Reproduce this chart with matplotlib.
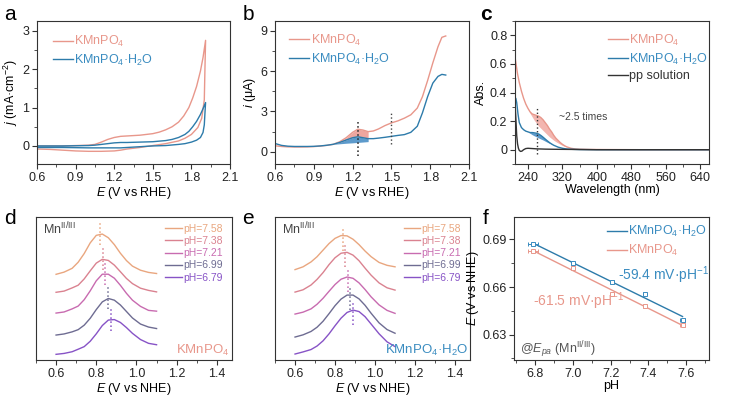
import numpy as np
import matplotlib
matplotlib.use("Agg")
import matplotlib.pyplot as plt
from matplotlib.ticker import MultipleLocator

plt.rcParams['font.family'] = ['Liberation Sans', 'DejaVu Sans']
plt.rcParams['mathtext.fontset'] = 'custom'
plt.rcParams['mathtext.rm'] = 'Liberation Sans'
plt.rcParams['mathtext.it'] = 'Liberation Sans:italic'
plt.rcParams['mathtext.bf'] = 'Liberation Sans:bold'
plt.rcParams['font.size'] = 9

# ---- data ----
lab_k = 'KMnPO$_4$'
lab_kh = 'KMnPO$_4$·H$_2$O'

# a: CV loops (forward then reverse)
a_k_E = [0.60, 0.70, 0.80, 0.90, 1.00, 1.05, 1.10, 1.15, 1.20, 1.25, 1.30, 1.40, 1.50, 1.55, 1.60, 1.65,
         1.70, 1.74, 1.78, 1.81, 1.84, 1.87, 1.89, 1.91,
         1.905, 1.90, 1.88, 1.85, 1.80, 1.75, 1.70, 1.60, 1.50, 1.40, 1.30, 1.25, 1.20, 1.10, 1.00,
         0.90, 0.80, 0.70, 0.60]
a_k_j = [0.0, 0.0, 0.0, 0.01, 0.02, 0.04, 0.10, 0.17, 0.22, 0.25, 0.26, 0.28, 0.32, 0.36, 0.42, 0.50,
         0.62, 0.78, 1.00, 1.25, 1.55, 1.95, 2.30, 2.75,
         2.00, 1.20, 0.72, 0.48, 0.30, 0.20, 0.13, 0.06, 0.01, -0.04, -0.08, -0.11, -0.13, -0.14, -0.14,
         -0.13, -0.11, -0.09, -0.08]
a_kh_E = [0.60, 0.80, 1.00, 1.05, 1.10, 1.15, 1.20, 1.25, 1.30, 1.40, 1.50, 1.60, 1.65, 1.70, 1.75,
          1.78, 1.81, 1.84, 1.87, 1.89, 1.91,
          1.905, 1.90, 1.89, 1.87, 1.84, 1.80, 1.75, 1.70, 1.60, 1.50, 1.40, 1.30, 1.25, 1.20, 1.10,
          1.00, 0.80, 0.60]
a_kh_j = [0.0, 0.0, 0.01, 0.02, 0.04, 0.06, 0.08, 0.09, 0.09, 0.10, 0.11, 0.14, 0.17, 0.22, 0.30,
          0.38, 0.50, 0.64, 0.82, 0.97, 1.13,
          0.85, 0.55, 0.35, 0.22, 0.15, 0.10, 0.06, 0.04, 0.01, 0.0, -0.02, -0.04, -0.05, -0.05, -0.05,
          -0.05, -0.04, -0.04]

# b: current traces
b_E = [0.60, 0.65, 0.70, 0.75, 0.80, 0.85, 0.90, 0.95, 1.00, 1.05, 1.10, 1.15, 1.20, 1.24, 1.28,
       1.32, 1.36, 1.40, 1.45, 1.50, 1.55, 1.60, 1.65, 1.70, 1.74, 1.78, 1.82, 1.86, 1.89, 1.92]
b_k = [0.45, 0.40, 0.37, 0.36, 0.36, 0.37, 0.39, 0.43, 0.48, 0.56, 0.75, 1.05, 1.45, 1.68, 1.62,
       1.50, 1.55, 1.70, 1.95, 2.15, 2.30, 2.50, 2.75, 3.25, 4.10, 5.30, 6.60, 7.80, 8.50, 8.60]
b_kh = [0.62, 0.48, 0.42, 0.40, 0.40, 0.40, 0.41, 0.44, 0.49, 0.56, 0.70, 0.88, 1.05, 1.12, 1.05,
        0.98, 0.98, 1.02, 1.08, 1.15, 1.22, 1.28, 1.45, 1.90, 2.90, 4.10, 5.10, 5.60, 5.75, 5.70]
b_base_E = [1.05, 1.10, 1.15, 1.20, 1.24, 1.28, 1.32]
b_base = [0.56, 0.60, 0.64, 0.67, 0.70, 0.73, 0.76]
b_marks = [1.24, 1.50]

# c: UV-vis
c_k_wl = [210, 213, 216, 220, 225, 230, 235, 240, 245, 250, 255, 260, 265, 270, 275, 280, 285, 290,
          295, 300, 305, 310, 315, 320, 325, 330, 340, 350, 360, 380, 420, 500, 580, 660]
c_k = [0.65, 0.59, 0.53, 0.47, 0.41, 0.36, 0.32, 0.29, 0.265, 0.25, 0.245, 0.24, 0.235, 0.225, 0.21,
       0.19, 0.17, 0.145, 0.125, 0.10, 0.08, 0.065, 0.05, 0.038, 0.028, 0.02, 0.01, 0.005, 0.003,
       0.002, 0.001, 0.0, 0.0, 0.0]
c_k_base_wl = [240, 245, 250, 255, 260, 265, 270, 275, 280, 285, 290, 295, 300, 305, 310, 315, 320, 325, 330]
c_k_base = [0.29, 0.255, 0.23, 0.205, 0.185, 0.165, 0.15, 0.135, 0.12, 0.105, 0.09, 0.078, 0.066,
            0.056, 0.047, 0.038, 0.03, 0.024, 0.02]
c_kh_wl = [210, 212, 214, 217, 220, 225, 230, 235, 240, 245, 250, 255, 260, 265, 270, 275, 280, 285,
           290, 295, 300, 310, 320, 330, 340, 360, 400, 500, 660]
c_kh = [0.33, 0.36, 0.33, 0.25, 0.19, 0.155, 0.14, 0.13, 0.125, 0.12, 0.12, 0.118, 0.115, 0.11, 0.10,
        0.088, 0.075, 0.062, 0.05, 0.04, 0.031, 0.018, 0.01, 0.005, 0.003, 0.001, 0.0, 0.0, 0.0]
c_kh_base_wl = [240, 245, 250, 255, 260, 265, 270, 275, 280, 285, 290, 295, 300, 310]
c_kh_base = [0.125, 0.115, 0.105, 0.097, 0.09, 0.082, 0.075, 0.068, 0.06, 0.052, 0.045, 0.038, 0.031, 0.018]
c_pp_wl = [210, 212, 214, 216, 218, 220, 223, 226, 230, 235, 240, 250, 260, 280, 300, 340, 400, 500, 660]
c_pp = [0.34, 0.22, 0.10, 0.04, 0.01, -0.005, -0.012, -0.01, 0.0, 0.008, 0.01, 0.008, 0.006, 0.004,
        0.003, 0.002, 0.0, 0.0, 0.0]
c_mark = 260

# d / e: stacked peaks (offset, a.u.)
pH_labels = ['pH=7.58', 'pH=7.38', 'pH=7.21', 'pH=6.99', 'pH=6.79']
pH_colors = ['#E9A67F', '#DA8290', '#C86BB0', '#6E6C92', '#8753C6']
peak_E = [0.60, 0.64, 0.68, 0.71, 0.74, 0.77, 0.80, 0.83, 0.86, 0.89, 0.92, 0.95, 0.98, 1.02, 1.06, 1.10]
d_758 = [8.58, 8.80, 9.18, 9.79, 10.66, 11.73, 12.48, 12.61, 12.24, 11.55, 10.69, 9.96, 9.40, 8.99, 8.77, 8.66]
d_738 = [6.78, 6.90, 7.22, 7.49, 8.12, 8.93, 9.70, 10.08, 9.97, 9.50, 8.84, 8.17, 7.65, 7.19, 6.97, 6.82]
d_721 = [4.70, 4.81, 5.12, 5.40, 6.04, 6.93, 7.93, 8.59, 8.59, 8.19, 7.48, 6.68, 5.99, 5.37, 4.97, 4.89]
d_699 = [2.50, 2.61, 2.82, 3.04, 3.49, 4.18, 5.05, 5.82, 6.16, 5.99, 5.51, 4.86, 4.21, 3.60, 3.30, 3.15]
d_679 = [0.57, 0.66, 0.83, 1.08, 1.34, 1.88, 2.62, 3.45, 4.00, 4.05, 3.76, 3.25, 2.67, 2.05, 1.67, 1.53]
d_mark_E = [0.82, 0.835, 0.845, 0.86, 0.875]
e_758 = [9.05, 9.33, 9.82, 10.34, 11.00, 11.66, 12.18, 12.46, 12.43, 12.09, 11.55, 10.91, 10.35, 9.77, 9.48, 9.33]
e_738 = [6.80, 7.03, 7.51, 8.07, 8.75, 9.55, 10.24, 10.69, 10.78, 10.50, 9.94, 9.20, 8.50, 7.72, 7.23, 7.00]
e_721 = [4.60, 4.79, 5.12, 5.58, 6.18, 6.88, 7.56, 8.09, 8.31, 8.18, 7.72, 7.06, 6.33, 5.52, 4.97, 4.67]
e_699 = [2.30, 2.52, 2.86, 3.28, 3.88, 4.64, 5.44, 6.10, 6.50, 6.50, 6.12, 5.48, 4.69, 3.72, 3.05, 2.68]
e_679 = [0.60, 0.81, 1.05, 1.40, 1.92, 2.62, 3.43, 4.19, 4.76, 5.00, 4.85, 4.34, 3.61, 2.63, 1.82, 1.34]
e_mark_E = [0.84, 0.852, 0.864, 0.875, 0.892]

# f: Epa vs pH
f_pH = [6.79, 7.00, 7.21, 7.38, 7.58]
f_kh = [0.6871, 0.6750, 0.6634, 0.6557, 0.6394]
f_k = [0.6829, 0.6718, 0.6555, 0.6482, 0.6363]
f_xerr = [0.025, 0.008, 0.008, 0.008, 0.012]

SALMON = '#E8978B'
BLUE = '#2D7BAA'
BLUE_T = '#3A8CC0'
DARK = '#333333'
MN = 'Mn$^{\\mathrm{II/III}}$'


def style(ax):
    for s in ax.spines.values():
        s.set_color(DARK)
        s.set_linewidth(0.8)
    ax.tick_params(which='both', direction='out', colors=DARK, labelcolor='#222222', labelsize=9, pad=2)
    ax.tick_params(which='major', length=3.5, width=0.8)
    ax.tick_params(which='minor', length=2, width=0.6)


def legend(ax, x, y, fs=9, sp=0.3, colors=None):
    leg = ax.legend(loc='upper left', bbox_to_anchor=(x, y), frameon=False, fontsize=fs,
                    handlelength=1.6, handletextpad=0.1, labelspacing=sp, borderpad=0,
                    borderaxespad=0)
    for t, c in zip(leg.get_texts(), colors):
        t.set_color(c)
    return leg


fig = plt.figure(figsize=(7.34, 3.99), dpi=100)
ax_a = fig.add_axes([0.0504, 0.589, 0.263, 0.358])
ax_b = fig.add_axes([0.3747, 0.589, 0.2643, 0.358])
ax_c = fig.add_axes([0.7016, 0.589, 0.2643, 0.358])
ax_d = fig.add_axes([0.049, 0.0977, 0.267, 0.358])
ax_e = fig.add_axes([0.3747, 0.0977, 0.2657, 0.358])
ax_f = fig.add_axes([0.7003, 0.0977, 0.2657, 0.358])

# ---- a ----
ax_a.plot(a_k_E, a_k_j, color=SALMON, lw=1, label=lab_k)
ax_a.plot(a_kh_E, a_kh_j, color=BLUE, lw=1, label=lab_kh)
ax_a.set_xlim(0.6, 2.1)
ax_a.set_ylim(-0.47, 3.25)
ax_a.xaxis.set_major_locator(MultipleLocator(0.3))
ax_a.xaxis.set_minor_locator(MultipleLocator(0.15))
ax_a.yaxis.set_major_locator(MultipleLocator(1))
ax_a.yaxis.set_minor_locator(MultipleLocator(0.5))
ax_a.set_xlabel('$E$ (V vs RHE)', labelpad=1)
ax_a.set_ylabel('$j$ (mA·cm$^{-2}$)', labelpad=2)
style(ax_a)
legend(ax_a, 0.083, 0.91, colors=[SALMON, BLUE_T])

# ---- b ----
b_E_arr = np.array(b_E)
sel = (b_E_arr >= b_base_E[0]) & (b_E_arr <= b_base_E[-1])
ax_b.fill_between(b_E_arr[sel], np.array(b_k)[sel], np.array(b_kh)[sel], color='#EE9D95', alpha=0.9, lw=0)
ax_b.fill_between(b_E_arr[sel], np.array(b_kh)[sel], b_base, color='#4B8FC6', alpha=0.9, lw=0)
ax_b.plot(b_E, b_k, color=SALMON, lw=1, label=lab_k)
ax_b.plot(b_E, b_kh, color=BLUE, lw=1, label=lab_kh)
ax_b.vlines(b_marks[0], -0.3, 2.4, colors='#222222', linestyles=':', lw=1.1)
ax_b.vlines(b_marks[1], 0.6, 2.9, colors='#444444', linestyles=':', lw=1.0)
ax_b.set_xlim(0.6, 2.1)
ax_b.set_ylim(-0.9, 9.7)
ax_b.xaxis.set_major_locator(MultipleLocator(0.3))
ax_b.xaxis.set_minor_locator(MultipleLocator(0.15))
ax_b.yaxis.set_major_locator(MultipleLocator(3))
ax_b.yaxis.set_minor_locator(MultipleLocator(1.5))
ax_b.set_xlabel('$E$ (V vs RHE)', labelpad=1)
ax_b.set_ylabel('$i$ (μA)', labelpad=2)
style(ax_b)
legend(ax_b, 0.074, 0.92, colors=[SALMON, BLUE_T])

# ---- c ----
k_wl = np.array(c_k_wl)
sel_k = (k_wl >= c_k_base_wl[0]) & (k_wl <= c_k_base_wl[-1])
ax_c.fill_between(k_wl[sel_k], np.array(c_k)[sel_k], c_k_base, color='#F2AAA2', alpha=0.85, lw=0)
kh_wl = np.array(c_kh_wl)
sel_kh = (kh_wl >= c_kh_base_wl[0]) & (kh_wl <= c_kh_base_wl[-1])
ax_c.fill_between(kh_wl[sel_kh], np.array(c_kh)[sel_kh], c_kh_base, color='#4B8FC6', alpha=0.9, lw=0)
ax_c.plot(c_k_wl, c_k, color=SALMON, lw=1, label=lab_k)
ax_c.plot(c_kh_wl, c_kh, color=BLUE, lw=1, label=lab_kh)
ax_c.plot(c_pp_wl, c_pp, color=DARK, lw=1, label='pp solution')
ax_c.vlines(c_mark, -0.03, 0.29, colors='#333333', linestyles=':', lw=1.0)
ax_c.text(313, 0.23, '~2.5 times', fontsize=7.5, color='#444444', va='center')
ax_c.set_xlim(210, 660)
ax_c.set_ylim(-0.1, 0.9)
ax_c.set_xticks([240, 320, 400, 480, 560, 640])
ax_c.xaxis.set_minor_locator(MultipleLocator(40))
ax_c.set_yticks([0, 0.2, 0.4, 0.6, 0.8])
ax_c.set_yticklabels(['0', '0.2', '0.4', '0.6', '0.8'])
ax_c.yaxis.set_minor_locator(MultipleLocator(0.1))
ax_c.set_xlabel('Wavelength (nm)', labelpad=0)
ax_c.set_ylabel('Abs.', labelpad=2)
style(ax_c)
legend(ax_c, 0.478, 0.92, colors=[SALMON, BLUE_T, DARK])

# ---- d / e ----
for ax, curves, marks, up, down in [(ax_d, [d_758, d_738, d_721, d_699, d_679], d_mark_E, 1.1, 1.1),
                                    (ax_e, [e_758, e_738, e_721, e_699, e_679], e_mark_E, 0.7, 1.5)]:
    for ys, c, lab, m in zip(curves, pH_colors, pH_labels, marks):
        ax.plot(peak_E, ys, color=c, lw=1, label=lab)
        top = max(ys)
        ax.vlines(m, top - down, top + up, colors=c, linestyles=':', lw=1.1)
    ax.set_xlim(0.5, 1.475)
    ax.set_ylim(0, 14.3)
    ax.set_xticks([0.6, 0.8, 1.0, 1.2, 1.4])
    ax.set_xticklabels(['0.6', '0.8', '1.0', '1.2', '1.4'])
    ax.xaxis.set_minor_locator(MultipleLocator(0.1))
    ax.set_yticks([])
    ax.set_xlabel('$E$ (V vs NHE)', labelpad=1)
    style(ax)
    legend(ax, 0.66, 0.955, fs=7.5, sp=0.22, colors=pH_colors)
    ax.text(0.037, 0.92, MN, transform=ax.transAxes, fontsize=9, color='#444444', va='center')

ax_d.text(0.985, 0.07, lab_k, transform=ax_d.transAxes, fontsize=9.5, color=SALMON, ha='right', va='center')
ax_e.text(0.99, 0.07, lab_kh, transform=ax_e.transAxes, fontsize=9.5, color=BLUE_T, ha='right', va='center')

# ---- f ----
pH = np.array(f_pH)
kh_fit = np.polyfit(pH, f_kh, 1)
k_fit = np.polyfit(pH, f_k, 1)
ax_f.plot(pH, np.polyval(kh_fit, pH), color=BLUE, lw=1, label=lab_kh)
ax_f.plot(pH, np.polyval(k_fit, pH), color=SALMON, lw=1, label=lab_k)
ax_f.errorbar(f_pH, f_kh, xerr=f_xerr, fmt='s', ms=2.5, mfc='white', mec=BLUE_T, ecolor=BLUE_T,
              elinewidth=0.7, capsize=1.5, mew=0.7)
ax_f.errorbar(f_pH, f_k, xerr=f_xerr, fmt='s', ms=2.5, mfc='white', mec=SALMON, ecolor=SALMON,
              elinewidth=0.7, capsize=1.5, mew=0.7)
ax_f.text(7.24, 0.6676, '-59.4 mV·pH$^{-1}$', color=BLUE_T, fontsize=10, va='center')
ax_f.text(6.79, 0.6509, '-61.5 mV·pH$^{-1}$', color=SALMON, fontsize=10, va='center')
ax_f.text(6.72, 0.6206, '@$E_{pa}$ (' + MN + ')', color='#555555', fontsize=9, va='center')
ax_f.set_xlim(6.69, 7.72)
ax_f.set_ylim(0.614, 0.704)
ax_f.set_xticks([6.8, 7.0, 7.2, 7.4, 7.6])
ax_f.xaxis.set_minor_locator(MultipleLocator(0.1))
ax_f.set_yticks([0.63, 0.66, 0.69])
ax_f.yaxis.set_minor_locator(MultipleLocator(0.015))
ax_f.set_xlabel('pH', labelpad=0)
ax_f.set_ylabel('$E$ (V vs NHE)', labelpad=1)
style(ax_f)
legend(ax_f, 0.478, 0.95, colors=[BLUE_T, SALMON])

# panel letters
for ch, x, y, w in [('a', 10, 15, 'normal'), ('b', 248, 15, 'normal'), ('c', 486, 15, 'bold'),
                    ('d', 10, 218, 'normal'), ('e', 248, 218, 'normal'), ('f', 486, 218, 'normal')]:
    fig.text(x / 734, 1 - y / 399, ch, fontsize=15, fontweight=w, ha='center', va='center')

fig.savefig('out.png', dpi=100)
